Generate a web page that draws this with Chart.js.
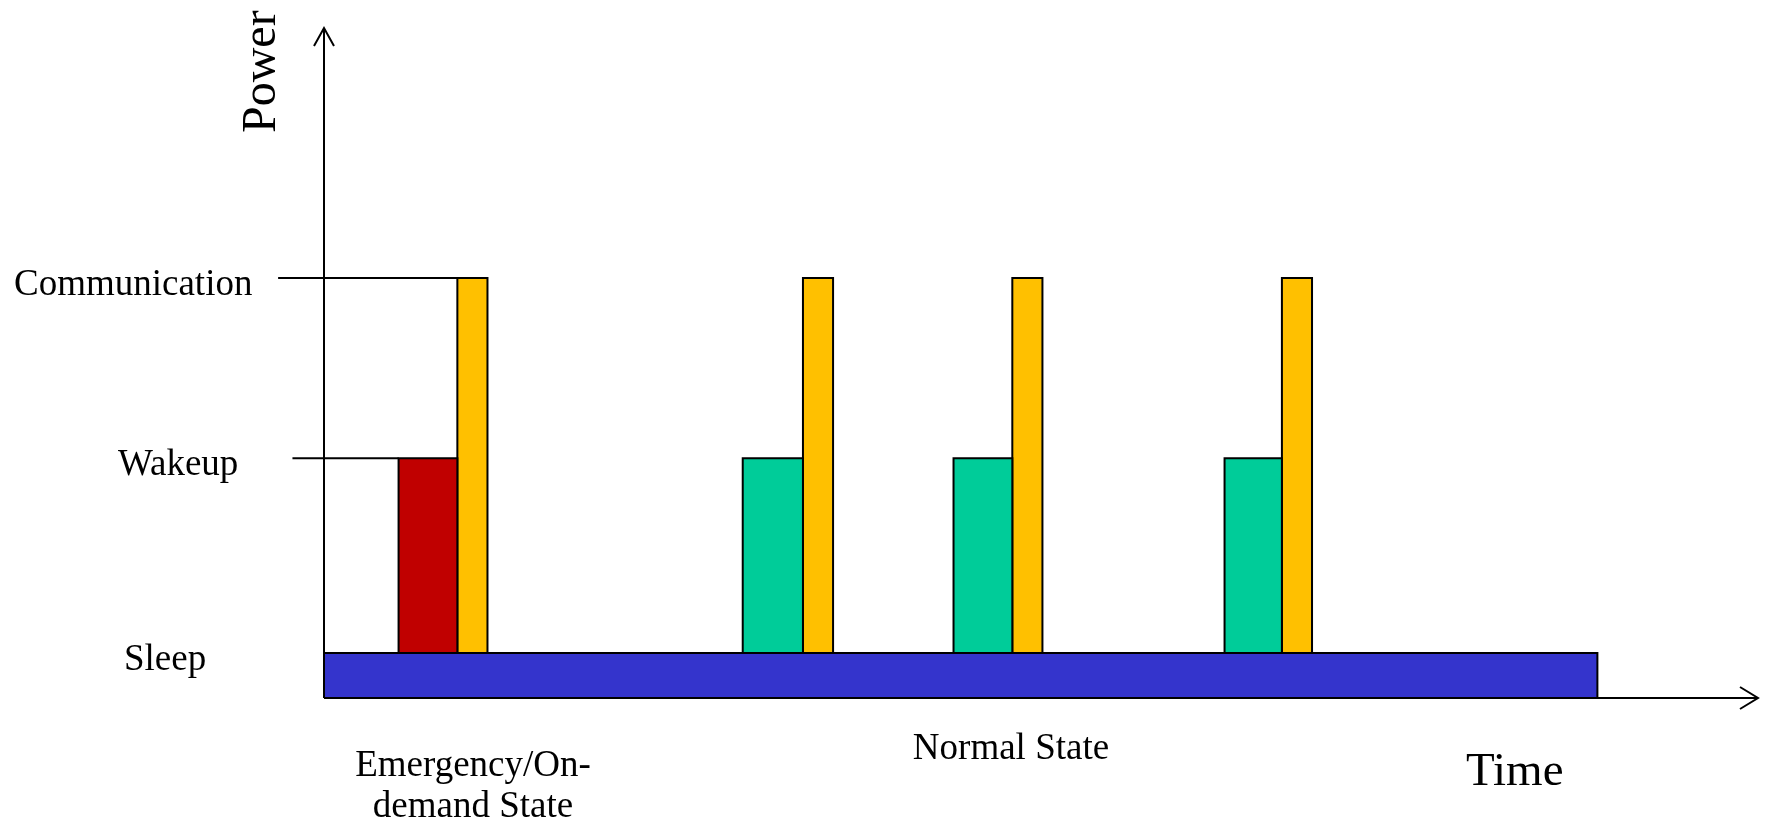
<!DOCTYPE html>
<html><head><meta charset="utf-8">
<script src="https://cdn.jsdelivr.net/npm/chart.js@4.4.0/dist/chart.umd.min.js"></script>
<style>html,body{margin:0;padding:0;background:#fff;}#wrap{width:1765px;height:825px;position:relative;}</style>
</head><body><div id="wrap"><canvas id="c"></canvas></div>
<script>
// ---- data (time in arbitrary units 0..100, power in arbitrary units 0..100) ----
const stateNames = ['Sleep', 'Wakeup', 'Communication'];
const stateLevels = [6.7, 35.8, 62.7];
const sleepSpan = [0, 88.8];
const wakeupStart = [5.2, 29.2, 43.9, 62.8];
const wakeupEnd = [9.3, 33.4, 48.0, 66.8];
const commEnd = [11.4, 35.5, 50.1, 68.9];
const wakeupMode = ['Emergency/On-demand', 'Normal', 'Normal', 'Normal'];
const phaseLabels = [['Emergency/On-', 'demand State'], ['Normal State']];
const axisTitles = ['Time', 'Power'];

// ---- styles ----
const COLORS = { sleep: '#3434CC', emergency: '#C00000', normal: '#00CC99', comm: '#FFC000' };
const FONT = '"Liberation Serif", "Times New Roman", serif';

function rect(x0, x1, y0, y1) {
  return [{x:x0,y:y0},{x:x1,y:y0},{x:x1,y:y1},{x:x0,y:y1},{x:x0,y:y0}];
}
function rectDs(data, color) {
  return { data, backgroundColor: color, borderColor: '#000', borderWidth: 2,
    fill: 'shape', pointRadius: 0, tension: 0, borderJoinStyle: 'miter', clip: false };
}
const sleepLevel = stateLevels[0], wakeLevel = stateLevels[1], commLevel = stateLevels[2];
const datasets = [];
datasets.push(rectDs(rect(sleepSpan[0], sleepSpan[1], 0, sleepLevel), COLORS.sleep));
wakeupStart.forEach((s, i) => {
  const c = wakeupMode[i] === 'Normal' ? COLORS.normal : COLORS.emergency;
  datasets.push(rectDs(rect(s, wakeupEnd[i], sleepLevel, wakeLevel), c));
  datasets.push(rectDs(rect(wakeupEnd[i], commEnd[i], sleepLevel, commLevel), COLORS.comm));
});
// guide lines to the level labels
datasets.push({ data: [{x:-3.2,y:commLevel},{x:wakeupEnd[0],y:commLevel}], borderColor:'#000', borderWidth:2, pointRadius:0, fill:false, clip:false });
datasets.push({ data: [{x:-2.2,y:wakeLevel},{x:wakeupStart[0],y:wakeLevel}], borderColor:'#000', borderWidth:2, pointRadius:0, fill:false, clip:false });

const overlay = {
  id: 'overlay',
  afterDraw(chart) {
    const {ctx, chartArea: a, scales: {x, y}} = chart;
    ctx.save();
    ctx.strokeStyle = '#000'; ctx.lineWidth = 2; ctx.lineJoin = 'miter';
    const x0 = x.getPixelForValue(0), y0 = y.getPixelForValue(0);
    ctx.beginPath(); ctx.moveTo(x0, y0); ctx.lineTo(x0, a.top); ctx.stroke();
    ctx.beginPath(); ctx.moveTo(x0-10, a.top+18); ctx.lineTo(x0, a.top); ctx.lineTo(x0+10, a.top+18); ctx.stroke();
    ctx.beginPath(); ctx.moveTo(x0, y0); ctx.lineTo(a.right, y0); ctx.stroke();
    ctx.beginPath(); ctx.moveTo(a.right-18, y0-11); ctx.lineTo(a.right, y0); ctx.lineTo(a.right-18, y0+11); ctx.stroke();

    ctx.fillStyle = '#000';
    ctx.textBaseline = 'alphabetic';
    ctx.font = '37px ' + FONT;
    ctx.textAlign = 'left';
    const labelX = [124, 118, 14];
    stateNames.forEach((n, i) => {
      ctx.fillText(n, labelX[i], y.getPixelForValue(stateLevels[i]) + 17);
    });
    ctx.textAlign = 'center';
    ctx.fillText(phaseLabels[0][0], 473, 776);
    ctx.fillText(phaseLabels[0][1], 473, 817);
    ctx.fillText(phaseLabels[1][0], 1011, 759);
    ctx.font = '47px ' + FONT;
    ctx.textAlign = 'left';
    ctx.fillText(axisTitles[0], 1466, 785);
    ctx.save();
    ctx.font = '48px ' + FONT;
    ctx.translate(275, 133);
    ctx.rotate(-Math.PI/2);
    ctx.fillText(axisTitles[1], 0, 0);
    ctx.restore();
    ctx.restore();
  }
};

new Chart(document.getElementById('c'), {
  type: 'line',
  data: { datasets },
  options: {
    responsive: true, maintainAspectRatio: false, animation: false,
    events: [],
    layout: { padding: { left: 324, right: 7, top: 28, bottom: 127 } },
    plugins: { legend: { display: false }, tooltip: { enabled: false } },
    scales: {
      x: { type: 'linear', min: 0, max: 100, display: false },
      y: { type: 'linear', min: 0, max: 100, display: false }
    }
  },
  plugins: [overlay]
});
</script>
</body></html>
